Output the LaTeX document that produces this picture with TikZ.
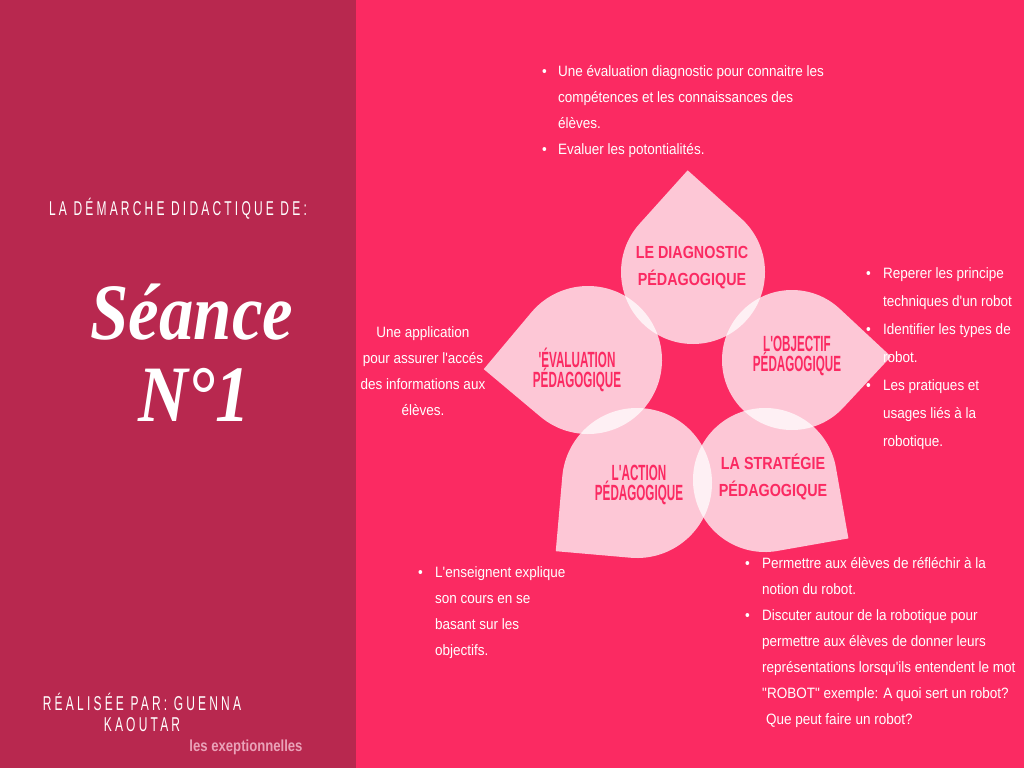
\documentclass[tikz,border=0pt]{standalone}
\usepackage{fontspec}
\setmainfont{Liberation Sans}
\newfontfamily\bodyfont[FakeStretch=0.9,Ligatures=TeXOff]{Liberation Sans}
\newfontfamily\labelfont[FakeStretch=0.82,Ligatures=TeXOff]{Liberation Sans}
\newfontfamily\tallfont[FakeStretch=0.53,Ligatures=TeXOff]{Liberation Sans}
\newfontfamily\spacedfont[FakeStretch=0.6,LetterSpace=16]{Liberation Sans}
\newfontfamily\brushfont[FakeStretch=0.86]{Liberation Serif}
\usetikzlibrary{positioning,calc}
\definecolor{Wine}{HTML}{B8284F}
\definecolor{Rose}{HTML}{FB2A62}
\definecolor{Blush}{HTML}{EAA2B8}

\begin{document}
\begin{tikzpicture}[x=1pt,y=-1pt,
    petal/.style={fill=white,fill opacity=0.74},
    lblnar/.style={text=Rose,align=center,inner sep=0pt,font=\labelfont\bfseries\fontsize{17.5}{27}\selectfont},
    lbltall/.style={text=Rose,align=center,inner sep=0pt,font=\tallfont\bfseries\fontsize{22}{20}\selectfont},
    txt/.style={text=white,inner sep=0pt,font=\bodyfont\fontsize{15}{26}\selectfont},
    caps/.style={text=white,inner sep=0pt,align=center,font=\spacedfont\fontsize{20}{21}\selectfont}
  ]
    \useasboundingbox (0,0) rectangle (1024,768);
    \fill[Wine] (0,0) rectangle (356,768);
    \fill[Rose] (356,0) rectangle (1024,768);
    % petals: centre x/y, radius, direction of the point
    \foreach \cx/\cy/\r/\a in {693/272/72/-93,792/360/70/-2,765/480/72/35,637/483/75/140,588/360/74/175}
      \fill[petal] (\cx,\cy) ++(\a+45:\r) arc[start angle=\a+45,end angle=\a+315,radius=\r]
        -- ($(\cx,\cy)+(\a:{1.4142*\r})$) -- cycle;
    \node[lblnar] (diaglbl) at (692,268) {LE DIAGNOSTIC\\ PÉDAGOGIQUE};
    \node[lbltall] (objlbl) at (797,356) {L'OBJECTIF\\PÉDAGOGIQUE};
    \node[lblnar] (stratlbl) at (773,477) {LA STRATÉGIE\\PÉDAGOGIQUE};
    \node[lbltall] (actionlbl) at (639,485) {L'ACTION\\PÉDAGOGIQUE};
    \node[lbltall] (evallbl) at (577,370) {'ÉVALUATION\\PÉDAGOGIQUE};

    \node[txt,anchor=base west] (diagtxt) at (542,76) {\begin{tabular}[t]{@{}p{16pt}@{}l@{}}
      \textbullet & Une évaluation diagnostic pour connaitre les\\
      & compétences et les connaissances des\\
      & élèves.\\
      \textbullet & Evaluer les potontialités.\end{tabular}};
    \node[txt,anchor=base west,font=\bodyfont\fontsize{15}{28}\selectfont] (objtxt) at (866,278) {\begin{tabular}[t]{@{}p{17pt}@{}l@{}}
      \textbullet & Reperer les principe\\
      & techniques d'un robot\\
      \textbullet & Identifier les types de\\
      & robot.\\
      \textbullet & Les pratiques et\\
      & usages liés à la\\
      & robotique.\end{tabular}};
    \node[txt,anchor=base west] (strattxt) at (745,568) {\begin{tabular}[t]{@{}p{17pt}@{}l@{}}
      \textbullet & Permettre aux élèves de réfléchir à la\\
      & notion du robot.\\
      \textbullet & Discuter autour de la robotique pour\\
      & permettre aux élèves de donner leurs\\
      & représentations lorsqu'ils entendent le mot\\
      & "ROBOT" exemple: A quoi sert un robot?\\
      & \hspace{4pt}Que peut faire un robot?\end{tabular}};
    \node[txt,anchor=base west] (actiontxt) at (418,577) {\begin{tabular}[t]{@{}p{17pt}@{}l@{}}
      \textbullet & L'enseignent explique\\
      & son cours en se\\
      & basant sur les\\
      & objectifs.\end{tabular}};
    \node[txt,anchor=base] (evaltxt) at (423,337) {\begin{tabular}[t]{@{}c@{}}
      Une application\\
      pour assurer l'accés\\
      des informations aux\\
      élèves.\end{tabular}};

    \node[caps] (title) at (178,209) {LA DÉMARCHE DIDACTIQUE DE:};
    \node[text=white,inner sep=0pt,font=\brushfont\bfseries\itshape\fontsize{80}{80}\selectfont] (seance) at (192,312) {Séance};
    \node[text=white,inner sep=0pt,font=\brushfont\bfseries\itshape\fontsize{80}{80}\selectfont] (numero) at (194,395) {N°1};
    \node[caps] (author) at (142,712) {RÉALISÉE PAR: GUENNA\\KAOUTAR};
    \node[text=Blush,inner sep=0pt,font=\labelfont\bfseries\fontsize{16}{16}\selectfont] (brand) at (246,747) {les exeptionnelles};
  \end{tikzpicture}
\end{document}
